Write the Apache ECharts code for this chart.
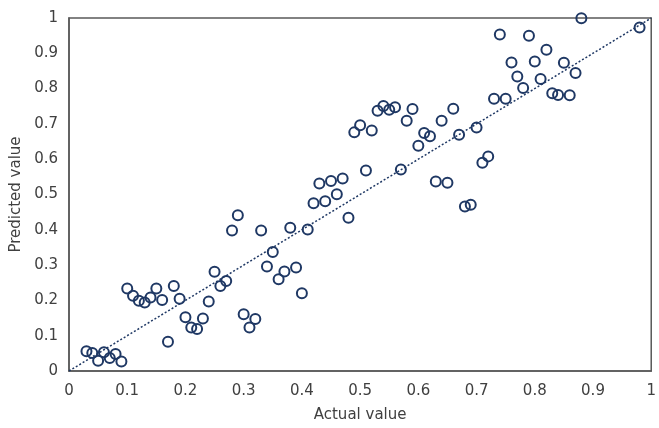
<!DOCTYPE html>
<html>
<head>
<meta charset="utf-8">
<script src="https://cdn.jsdelivr.net/npm/echarts@6/dist/echarts.min.js"></script>
<style>
html,body{margin:0;padding:0;background:#fff;}
#chart{width:659px;height:428px;}
</style>
</head>
<body>
<div id="chart"></div>
<script>
const actualValues = [0.03,0.04,0.05,0.06,0.07,0.08,0.09,0.10,0.11,0.12,0.13,0.14,0.15,0.16,0.17,0.18,0.19,0.20,0.21,0.22,0.23,0.24,0.25,0.26,0.27,0.28,0.29,0.30,0.31,0.32,0.33,0.34,0.35,0.36,0.37,0.38,0.39,0.40,0.41,0.42,0.43,0.44,0.45,0.46,0.47,0.48,0.49,0.50,0.51,0.52,0.53,0.54,0.55,0.56,0.57,0.58,0.59,0.60,0.61,0.62,0.63,0.64,0.65,0.66,0.67,0.68,0.69,0.70,0.71,0.72,0.73,0.74,0.75,0.76,0.77,0.78,0.79,0.80,0.81,0.82,0.83,0.84,0.85,0.86,0.87,0.88,0.98];
const predictedValues = [0.056,0.051,0.029,0.053,0.037,0.048,0.027,0.234,0.213,0.199,0.194,0.208,0.234,0.201,0.083,0.241,0.205,0.152,0.123,0.119,0.149,0.197,0.281,0.241,0.255,0.398,0.441,0.161,0.123,0.147,0.398,0.296,0.337,0.260,0.282,0.406,0.293,0.220,0.401,0.475,0.531,0.481,0.538,0.501,0.545,0.434,0.676,0.696,0.568,0.681,0.737,0.751,0.740,0.747,0.571,0.709,0.742,0.638,0.674,0.665,0.537,0.709,0.533,0.743,0.669,0.466,0.471,0.690,0.590,0.608,0.771,0.953,0.771,0.874,0.834,0.802,0.950,0.877,0.827,0.910,0.787,0.782,0.873,0.781,0.844,0.999,0.973];
const identityLine = [[0,0],[1,1]];
const tickLabels = ['0','0.1','0.2','0.3','0.4','0.5','0.6','0.7','0.8','0.9','1'];

const points = actualValues.map((x,i)=>[x,predictedValues[i]]);
const navy = '#1F3864';
const textColor = '#404040';
const fontFamily = '"DejaVu Sans", Verdana, sans-serif';

function fmt(v){ const i = Math.round(v*10); return tickLabels[i] !== undefined ? tickLabels[i] : ''; }

const chart = echarts.init(document.getElementById('chart'), null, {renderer:'canvas'});
chart.setOption({
  animation:false,
  backgroundColor:'#fff',
  grid:{left:69,right:5,top:18,bottom:56,show:true,borderColor:'#595959',borderWidth:1.5,backgroundColor:'transparent'},
  xAxis:{
    type:'value',min:0,max:1,interval:0.1,
    name:'Actual value',nameLocation:'middle',nameGap:37,
    nameTextStyle:{color:textColor,fontSize:15,fontFamily:fontFamily},
    axisLine:{show:true,lineStyle:{color:'#595959',width:1.5}},
    axisTick:{show:false},
    splitLine:{show:false},
    axisLabel:{color:textColor,fontSize:15,fontFamily:fontFamily,margin:13,formatter:fmt}
  },
  yAxis:{
    type:'value',min:0,max:1,interval:0.1,
    name:'Predicted value',nameLocation:'middle',nameGap:44,
    nameTextStyle:{color:textColor,fontSize:15,fontFamily:fontFamily},
    axisLine:{show:true,lineStyle:{color:'#595959',width:1.5}},
    axisTick:{show:false},
    splitLine:{show:false},
    axisLabel:{color:textColor,fontSize:15,fontFamily:fontFamily,margin:11,formatter:fmt}
  },
  series:[
    {
      type:'line',data:identityLine,symbol:'none',silent:true,
      lineStyle:{color:navy,width:1.5,type:[2,2]},z:1
    },
    {
      type:'scatter',data:points,symbol:'circle',symbolSize:10,
      itemStyle:{color:'rgba(0,0,0,0)',borderColor:navy,borderWidth:2,opacity:1},z:2
    }
  ]
});
</script>
</body>
</html>
